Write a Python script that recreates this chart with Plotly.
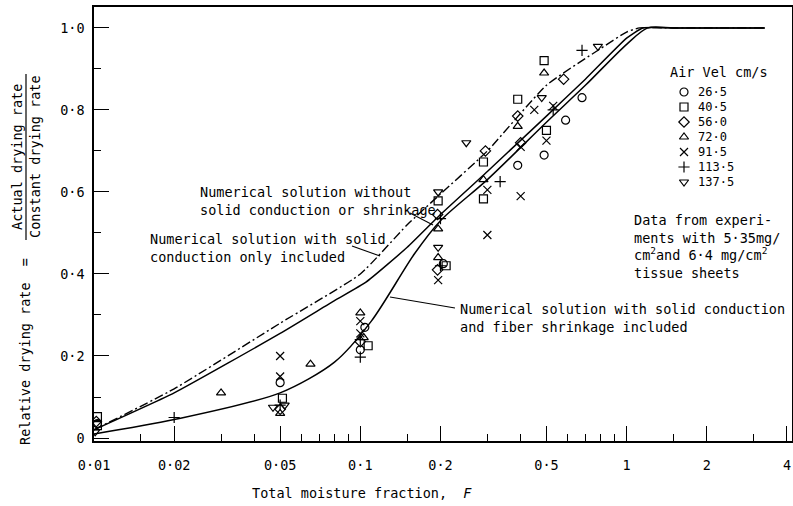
import plotly.graph_objects as go

# ---------------- data ----------------
vel_labels = ["26·5", "40·5", "56·0", "72·0", "91·5", "113·5", "137·5"]

F_265 = [0.0103, 0.05, 0.104, 0.1, 0.205, 0.39, 0.49, 0.59, 0.68]
R_265 = [0.035, 0.135, 0.27, 0.215, 0.425, 0.665, 0.69, 0.775, 0.83]

F_405 = [0.0103, 0.0103, 0.051, 0.107, 0.196, 0.21, 0.29, 0.29, 0.39, 0.49, 0.5]
R_405 = [0.052, 0.03, 0.097, 0.225, 0.578, 0.42, 0.673, 0.583, 0.826, 0.92, 0.75]

F_560 = [0.0102, 0.05, 0.1, 0.195, 0.195, 0.295, 0.39, 0.4, 0.58]
R_560 = [0.04, 0.07, 0.235, 0.545, 0.41, 0.70, 0.785, 0.72, 0.875]

F_720 = [0.03, 0.05, 0.065, 0.1, 0.103, 0.196, 0.196, 0.29, 0.39, 0.49]
R_720 = [0.11, 0.06, 0.18, 0.305, 0.245, 0.51, 0.44, 0.63, 0.76, 0.89]

F_915 = [0.05, 0.05, 0.1, 0.1, 0.196, 0.3, 0.3, 0.4, 0.4, 0.45, 0.5, 0.53]
R_915 = [0.2, 0.15, 0.285, 0.255, 0.385, 0.605, 0.495, 0.59, 0.71, 0.80, 0.725, 0.81]

F_1135 = [0.02, 0.05, 0.1, 0.1, 0.2, 0.2, 0.335, 0.53, 0.68]
R_1135 = [0.05, 0.08, 0.197, 0.24, 0.535, 0.42, 0.625, 0.80, 0.945]

F_1375 = [0.0101, 0.047, 0.052, 0.196, 0.196, 0.25, 0.48, 0.78]
R_1375 = [0.015, 0.075, 0.08, 0.60, 0.465, 0.72, 0.83, 0.955]

# numerical solutions
F_none = [0.01, 0.02, 0.05, 0.1, 0.15, 0.2, 0.3, 0.5, 0.8, 1.0, 1.12, 1.5, 2.2, 3.3]
R_none = [0.02, 0.12, 0.28, 0.40, 0.52, 0.595, 0.70, 0.86, 0.95, 0.99, 1.0, 1.0, 1.0, 1.0]

F_cond = [0.01, 0.02, 0.05, 0.08, 0.105, 0.15, 0.2, 0.3, 0.5, 0.7, 1.0, 1.15, 1.5, 2.2, 3.3]
R_cond = [0.02, 0.11, 0.255, 0.335, 0.38, 0.465, 0.545, 0.65, 0.785, 0.875, 0.975, 1.0, 1.0, 1.0, 1.0]

F_shr = [0.01, 0.02, 0.05, 0.08, 0.11, 0.16, 0.2, 0.3, 0.5, 0.7, 1.0, 1.2, 1.5, 2.2, 3.3]
R_shr = [0.01, 0.045, 0.11, 0.185, 0.285, 0.45, 0.53, 0.63, 0.77, 0.86, 0.96, 1.0, 1.0, 1.0, 1.0]

x_tickvals = [0.01, 0.02, 0.05, 0.1, 0.2, 0.5, 1, 2, 4]
x_ticktext = ["0·01", "0·02", "0·05", "0·1", "0·2", "0·5", "1", "2", "4"]
x_minorvals = [0.015, 0.03, 0.04, 0.06, 0.07, 0.08, 0.09, 0.15, 0.3, 0.4,
               0.6, 0.7, 0.8, 0.9, 1.5, 3]
y_tickvals = [0, 0.2, 0.4, 0.6, 0.8, 1.0]
y_ticktext = ["0", "0·2", "0·4", "0·6", "0·8", "1·0"]
y_minorvals = [0.1, 0.3, 0.5, 0.7, 0.9]

# ---------------- styling / layout ----------------
series = [
    (F_265, R_265, "circle-open"),
    (F_405, R_405, "square-open"),
    (F_560, R_560, "diamond-open"),
    (F_720, R_720, "triangle-up-open"),
    (F_915, R_915, "x-thin-open"),
    (F_1135, R_1135, "cross-thin-open"),
    (F_1375, R_1375, "triangle-down-open"),
]

W, H = 793, 506
L, R, T, B = 94, 1, 7, 65
FONT = "DejaVu Sans Mono"
FS = 13.5


def px(x):
    return (x - L) / (W - L - R)


def py(y):
    return (H - B - y) / (H - T - B)


fig = go.Figure()

fig.add_trace(go.Scatter(x=F_none, y=R_none, mode="lines", line_shape="spline",
                         line=dict(color="black", width=1.4, dash="9px,3px,2px,3px",
                                   smoothing=0.5),
                         showlegend=False, hoverinfo="skip"))
fig.add_trace(go.Scatter(x=F_cond, y=R_cond, mode="lines", line_shape="spline",
                         line=dict(color="black", width=1.5, smoothing=0.45),
                         showlegend=False, hoverinfo="skip"))
fig.add_trace(go.Scatter(x=F_shr, y=R_shr, mode="lines", line_shape="spline",
                         line=dict(color="black", width=1.5, smoothing=0.8),
                         showlegend=False, hoverinfo="skip"))

for (fx, ry, sym), lab in zip(series, vel_labels):
    fig.add_trace(go.Scatter(
        x=fx, y=ry, mode="markers", name=lab, showlegend=False,
        marker=dict(symbol=sym, size=8, color="black",
                    line=dict(color="black", width=1.2)),
    ))

# legend keys (overlay axis in paper-like units)
row0, rowgap = 92, 15
key_x = [px(684)] * len(series)
key_y = [py(row0 + rowgap * i) for i in range(len(series))]
fig.add_trace(go.Scatter(
    x=key_x, y=key_y, xaxis="x2", yaxis="y2", mode="markers", showlegend=False,
    marker=dict(symbol=[s[2] for s in series], size=8, color="black",
                line=dict(color="black", width=1.2)),
    hoverinfo="skip",
))

annotations = []
for i, lab in enumerate(vel_labels):
    annotations.append(dict(xref="paper", yref="paper", x=px(697), y=key_y[i],
                            text=lab, showarrow=False, xanchor="left",
                            yanchor="middle", borderpad=0,
                            font=dict(family=FONT, size=12, color="black")))


def note(text, x, y, xanchor="left", angle=0, size=FS):
    annotations.append(dict(xref="paper", yref="paper", x=px(x), y=py(y), text=text,
                            showarrow=False, xanchor=xanchor, yanchor="middle",
                            align="left", textangle=angle,
                            font=dict(family=FONT, size=size, color="black")))


note("Air Vel cm/s", 668, 72)
note("Data from experi-<br>ments with 5·35mg/<br>cm<sup>2</sup>and 6·4 mg/cm<sup>2</sup><br>tissue sheets", 632, 246)
note("Numerical solution without<br>solid conduction or shrinkage", 198, 201)
note("Numerical solution with solid<br>conduction only included", 148, 248)
note("Numerical solution with solid conduction<br>and fiber shrinkage included", 458, 318)
note("Total moisture fraction,  <i>F</i>", 250, 493)
note("Actual drying rate", 17, 157, xanchor="center", angle=-90)
note("Constant drying rate", 35, 157, xanchor="center", angle=-90)
note("Relative drying rate  =", 25, 352, xanchor="center", angle=-90)

shapes = [
    dict(type="line", xref="paper", yref="paper", x0=px(26), x1=px(26),
         y0=py(74), y1=py(240), line=dict(color="black", width=1.2)),
    dict(type="line", xref="paper", yref="paper", x0=px(410), x1=px(433),
         y0=py(213), y1=py(225), line=dict(color="black", width=1.1)),
    dict(type="line", xref="paper", yref="paper", x0=px(352), x1=px(380),
         y0=py(246), y1=py(256), line=dict(color="black", width=1.1)),
    dict(type="line", xref="paper", yref="paper", x0=px(390), x1=px(455),
         y0=py(297), y1=py(308), line=dict(color="black", width=1.1)),
]

fig.update_layout(
    width=W, height=H, margin=dict(l=L, r=R, t=T, b=B, autoexpand=False),
    paper_bgcolor="white", plot_bgcolor="white",
    font=dict(family=FONT, size=FS, color="black"),
    annotations=annotations, shapes=shapes, showlegend=False,
    xaxis=dict(type="log", range=[-2, 0.621], tickmode="array",
               tickvals=x_tickvals, ticktext=x_ticktext, ticks="inside",
               ticklen=15, tickwidth=1.3, tickcolor="black", showline=True,
               linecolor="black", linewidth=1.5, mirror=True, showgrid=False,
               zeroline=False, automargin=False, ticklabelstandoff=11,
               tickfont=dict(family=FONT, size=FS, color="black"),
               minor=dict(tickvals=x_minorvals, ticks="inside", ticklen=7,
                          tickcolor="black", tickwidth=1.2, showgrid=False)),
    yaxis=dict(range=[-0.0073, 1.051], tickmode="array", tickvals=y_tickvals,
               ticktext=y_ticktext, ticks="inside", ticklen=15, tickwidth=1.3,
               tickcolor="black", showline=True, linecolor="black", linewidth=1.5,
               mirror=True, showgrid=False, zeroline=False, automargin=False,
               ticklabelstandoff=5,
               tickfont=dict(family=FONT, size=FS, color="black"),
               minor=dict(tickvals=y_minorvals, ticks="inside", ticklen=7,
                          tickcolor="black", tickwidth=1.2, showgrid=False)),
    xaxis2=dict(overlaying="x", range=[0, 1], visible=False, fixedrange=True),
    yaxis2=dict(overlaying="y", range=[0, 1], visible=False, fixedrange=True),
)

fig.write_html("out.html")
